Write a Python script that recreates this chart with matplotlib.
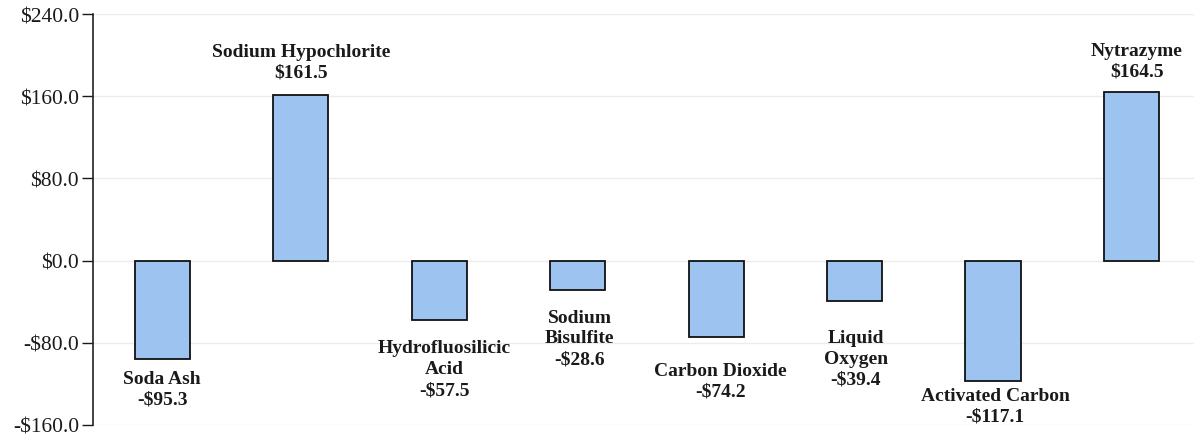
import matplotlib.pyplot as plt
from matplotlib.ticker import FuncFormatter

# Chemical cost changes (label, value)
chemicals = ['Soda Ash', 'Sodium Hypochlorite', 'Hydrofluosilicic\nAcid', 'Sodium\nBisulfite',
             'Carbon Dioxide', 'Liquid\nOxygen', 'Activated Carbon', 'Nytrazyme']
values = [-95.3, 161.5, -57.5, -28.6, -74.2, -39.4, -117.1, 164.5]
yticks = [-160, -80, 0, 80, 160, 240]

# label offsets from bar end, in pixels (dx, dy)
label_offsets = [(0, -30), (0, 33), (5, -49), (2, -48), (4, -44), (1, -57), (2, -25), (5, 31)]

plt.rcParams['font.family'] = 'Liberation Serif'

fig = plt.figure(figsize=(11.94, 4.39), dpi=100)
ax = fig.add_axes([93 / 1194, 13 / 439, 1101 / 1194, 411 / 439])

x = range(len(values))
ax.bar(x, values, width=0.4, color='#9dc3f0', edgecolor='#111111', linewidth=1.3, zorder=3)

for i, (name, v) in enumerate(zip(chemicals, values)):
    amount = f"${v:.1f}" if v >= 0 else f"-${abs(v):.1f}"
    dx, dy = label_offsets[i]
    ax.annotate(f"{name}\n{amount}", xy=(i, v), xytext=(dx, dy), textcoords='offset pixels',
                ha='center', va='center', fontsize=14, fontweight='bold',
                linespacing=1.3, color='#1a1a1a', zorder=4)

ax.set_xlim(-0.5, 7.45)
ax.set_ylim(-160, 240)
ax.set_yticks(yticks)
ax.yaxis.set_major_formatter(FuncFormatter(lambda v, p: f"${v:.1f}" if v >= 0 else f"-${abs(v):.1f}"))
ax.tick_params(axis='y', labelsize=15.5, length=8, width=1, colors='#1a1a1a', direction='out', pad=2)
ax.set_xticks([])
ax.grid(axis='y', color='#ececec', linewidth=1, zorder=0)

for side in ['top', 'right', 'bottom']:
    ax.spines[side].set_visible(False)
ax.spines['left'].set_color('#222222')
ax.spines['left'].set_linewidth(1.2)

fig.savefig('out.png', dpi=100)
